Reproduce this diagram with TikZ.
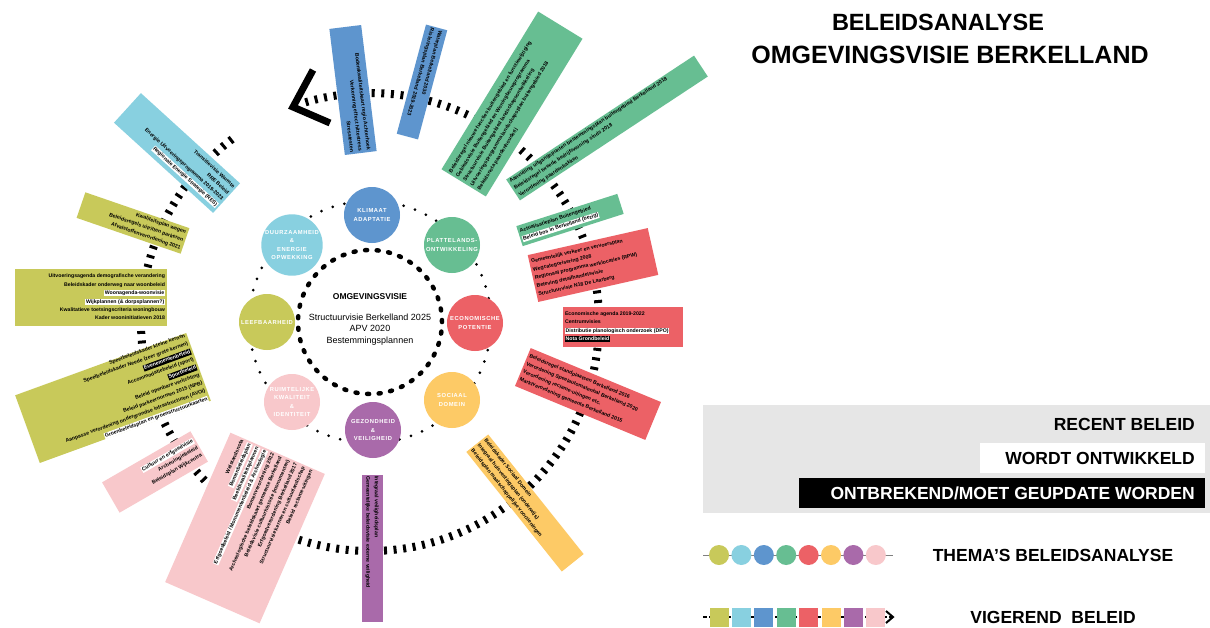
\documentclass[tikz,border=0pt]{standalone}
\usepackage{fontspec}
\setmainfont{Liberation Sans}
\newfontfamily\themefont[LetterSpace=10]{Liberation Sans}
\definecolor{colive}{HTML}{C8C95A}
\definecolor{ccyan}{HTML}{88D0E0}
\definecolor{cblue}{HTML}{5E95CE}
\definecolor{cgreen}{HTML}{67BE92}
\definecolor{cred}{HTML}{EC6166}
\definecolor{cyellow}{HTML}{FDCA66}
\definecolor{cpurple}{HTML}{A96AAA}
\definecolor{cpink}{HTML}{F8C8CB}
\definecolor{cgreybg}{HTML}{E6E6E6}
\newcommand{\wh}[1]{{\setlength{\fboxsep}{0.7pt}\colorbox{white}{\vphantom{Ag}#1}}}
\newcommand{\bk}[1]{{\setlength{\fboxsep}{0.7pt}\colorbox{black}{\color{white}\vphantom{Ag}#1}}}
\tikzset{
  pbox/.style={rectangle, inner sep=0pt, draw=none},
  ptext/.style={inner sep=2pt, font=\fontsize{5.2}{8.4}\selectfont\bfseries, text=black},
  alwest/.style={align=left},
  aleast/.style={align=right},
  theme/.style={circle, minimum size=56pt, inner sep=0pt, text=white, align=center,
    font=\fontsize{5.8}{8.6}\themefont\bfseries},
  bigring/.style={line width=8pt, dash pattern=on 3pt off 6.6pt},
  dotring/.style={line width=3pt, line cap=round, dash pattern=on 0pt off 12pt},
  innerring/.style={line width=4.5pt, line cap=round, dash pattern=on 2pt off 9.6pt},
  legtext/.style={font=\fontsize{17.5}{20}\selectfont\bfseries, inner sep=0pt},
  legdot/.style={circle, minimum size=20pt, inner sep=0pt},
  legsq/.style={rectangle, minimum size=19pt, inner sep=0pt},
}
\newcommand{\polbox}[9]{%
  \node[pbox, fill=#1, rotate=#5, minimum width=#6, minimum height=#7] (#2) at (#3,#4) {};%
  \node[ptext, rotate=#5, anchor=#8, al#8] (#2t) at (#2.#8) {#9};%
}
\begin{document}
\begin{tikzpicture}[x=1pt,y=1pt]
\useasboundingbox (0,0) rectangle (1210,-627);
\fill[white] (0,0) rectangle (1210,-627);
\coordinate (C) at (370,-322);

% rings
\draw[bigring] (C) ++(127:229) arc[start angle=127, end angle=467, radius=229];
\draw[dotring] (C) circle[radius=121];
\draw[innerring] (C) circle[radius=72];
% arrow head of the big ring
\coordinate (chA) at (313,-70);
\coordinate (chT) at (293,-107);
\coordinate (chB) at (330,-123);
\draw[line width=7pt] (chA) -- (chT) -- (chB);

% centre text
\node[font=\fontsize{8.5}{10}\selectfont\bfseries] (ov) at (370,-297) {OMGEVINGSVISIE};
\node[font=\fontsize{9}{11.5}\selectfont, align=center] (ovt) at (370,-329.5)
  {Structuurvisie Berkelland 2025\\APV 2020\\Bestemmingsplannen};

% theme circles
\node[theme, fill=cblue]   (klim) at (372,-215) {KLIMAAT\\ADAPTATIE};
\node[theme, fill=cgreen]  (plat) at (452,-245) {PLATTELANDS-\\ONTWIKKELING};
\node[theme, fill=cred]    (econ) at (475,-323) {ECONOMISCHE\\POTENTIE};
\node[theme, fill=cyellow] (soc)  at (452,-400) {SOCIAAL\\DOMEIN};
\node[theme, fill=cpurple] (gez)  at (373,-430) {GEZONDHEID\\\&\\VEILIGHEID};
\node[theme, fill=cpink]   (ruim) at (292,-402) {RUIMTELIJKE\\KWALITEIT\\\&\\IDENTITEIT};
\node[theme, fill=colive]  (leef) at (267,-322) {LEEFBAARHEID};
\node[theme, fill=ccyan]   (duur) at (292,-245) {DUURZAAMHEID\\\&\\ENERGIE\\OPWEKKING};

% policy boxes
\polbox{cblue}{bA}{353}{-90}{-83}{127pt}{32pt}{east}{Bodemkwaliteitskaart regio Achterhoek\\Verkenning effect hittestress\\Stresstesten}
\polbox{cblue}{bB}{422}{-82}{-105}{113pt}{22pt}{west}{Waterplan Berkelland 2030\\Rioleringsplan Berkelland 2019-2023}
\polbox{cgreen}{gA}{512}{-104}{58.5}{185pt}{52pt}{west}{Beleidsregel nieuwe functies buitengebied en functiewijziging\\Gebiedsvisie Buitengebied en Woningbouwprogramma\\Structuurvisie Buitengebied landschapsontwikkeling\\Uitvoeringsprogramma landschapsplan buitengebied 2018\\Beleidsnota paardenhouderij}
\polbox{cgreen}{gB}{607}{-128}{33.4}{225pt}{25pt}{west}{Aanvulling uitgangspunten bestemmingsplan buitengebied Berkelland 2018\\Beleidsregel tweede bedrijfswoning sinds 2018\\Verordening paardenbakken}
\polbox{cgreen}{gC}{570}{-220}{17.7}{106pt}{21pt}{west}{Actualisatieplan Buitengebied\\\wh{Beleid bos in Berkelland (bezig)}}
\polbox{cred}{rA}{593}{-265}{12.7}{123pt}{48pt}{west}{Gemeentelijk verkeer en vervoersplan\\Wegcategorisering 2008\\Regionaal programma werklocaties (RPW)\\Beleving detailhandelsvisie\\Structuurvisie N18 De Laarberg}
\polbox{cred}{rB}{623}{-327}{0}{120pt}{40pt}{west}{Economische agenda 2019-2022\\Centrumvisies\\\wh{Distributie planologisch onderzoek (DPO)}\\\bk{Nota Grondbeleid}}
\polbox{cred}{rC}{588}{-394}{-22.5}{141pt}{41pt}{west}{Beleidsregel standplaatsen Berkelland 2016\\Verordening Speelautomatenhal Berkelland 2020\\Verordening reclame-uitingen etc.\\Marktverordening gemeente Berkelland 2015}
\polbox{cyellow}{yA}{525}{-503}{-51.4}{153pt}{28pt}{west}{Beleidskader Sociaal Domein\\Integraal huisvestingsplan (onderwijs)\\Beleidsplan maatschappelijke voorzieningen}
\polbox{cpurple}{pA}{372}{-548}{-90}{147pt}{21pt}{west}{Integraal veiligheidsplan\\Gemeentelijke beleidsvisie externe veiligheid}
\polbox{cpink}{kA}{245}{-528}{66.4}{163pt}{103pt}{east}{Welstandsnota\\\wh{Bomenbeleidsplan}\\\wh{Beeldkwaliteitsplannen}\\\wh{Erfgoedbeleid / Monumentenbeleid \& Archeologie}\\Bomenverordening 2012\\Archeologische beleidskaart gemeente Berkelland\\Beleidsvisie cultuurhistorie (monumenten)\\Erfgoedverordening Berkelland 2017\\Structuurvisie kernen en cultuurlandschap\\Beleid reclame-uitingen}
\polbox{cpink}{kB}{155}{-472}{30}{102pt}{35pt}{east}{\wh{Cultuur en erfgoedvisie}\\Archeologiebeleid\\Beleidsplan Wijkcentra}
\polbox{colive}{oA}{113}{-398}{20}{182pt}{72pt}{east}{Speelbeleidskader kleine kernen\\Speelbeleidskader Neede (zeer grote kernen)\\\bk{Evenementenbeleid}\\Accommodatiebeleid (sport)\\\bk{Sportbeleid}\\Beleid openbare verlichting\\Beleid parkeernormen 2015 (NPB)\\Aanpasse verordening ondergrondse infrastructuren (AVOI)\\\wh{Groenbeleidsplan en groenstructuurkaarten}}
\polbox{colive}{oB}{91}{-297}{0}{152pt}{57pt}{east}{Uitvoeringsagenda demografische verandering\\Beleidskader onderweg naar woonbeleid\\\wh{Woonagenda-woonvisie}\\\wh{Wijkplannen (\& dorpsplannen?)}\\Kwalitatieve toetsingscriteria woningbouw\\Kader wooninitiatieven 2018}
\polbox{colive}{oC}{133}{-223}{-19}{110pt}{27pt}{east}{Kwaliteitsplan wegen\\Beleidsregels uitritten parkeren\\Afvalstoffenverordening 2021}
\polbox{ccyan}{cA}{177}{-153}{-42.3}{134pt}{40pt}{east}{Transitievisie Warmte\\RRE Beleid\\Energie Uitvoeringsprogramma 2019-2023\\\wh{Regionale Energie Strategie (RES)}}

% title
\node[font=\fontsize{23.5}{28}\selectfont\bfseries, inner sep=0pt] (t1) at (938,-22) {BELEIDSANALYSE};
\node[font=\fontsize{25}{28}\selectfont\bfseries, inner sep=0pt] (t2) at (950,-55) {OMGEVINGSVISIE BERKELLAND};

% legend
\fill[cgreybg] (703,-405) rectangle (1210,-513);
\fill[white] (980,-443) rectangle (1205,-473);
\fill[black] (799,-478) rectangle (1205,-508);
\node[legtext, anchor=east] (l1) at (1195,-424) {RECENT BELEID};
\node[legtext, anchor=east] (l2) at (1195,-458) {WORDT ONTWIKKELD};
\node[legtext, anchor=east, text=white] (l3) at (1195,-493) {ONTBREKEND/MOET GEUPDATE WORDEN};

\draw[gray, line width=0.6pt] (703,-555) -- (893,-555);
\foreach \c [count=\i from 0] in {colive,ccyan,cblue,cgreen,cred,cyellow,cpurple,cpink}{
  \node[legdot, fill=\c] (ld\i) at ({719+22.4*\i},-555) {};
}
\node[legtext] (l4) at (1053,-555) {THEMA’S BELEIDSANALYSE};

\coordinate (vs) at (703,-617);
\coordinate (ve) at (891,-617);
\draw[black, line width=1.3pt, dash pattern=on 4pt off 2pt] (vs) -- (ve);
\foreach \c [count=\i from 0] in {colive,ccyan,cblue,cgreen,cred,cyellow,cpurple,cpink}{
  \node[legsq, fill=\c] (ls\i) at ({719+22.4*\i},-617) {};
}
\draw[line width=2pt] (886,-611) -- (893,-617) -- (886,-623);
\node[legtext] (l5) at (1053,-617) {VIGEREND\ \ BELEID};
\end{tikzpicture}
\end{document}
